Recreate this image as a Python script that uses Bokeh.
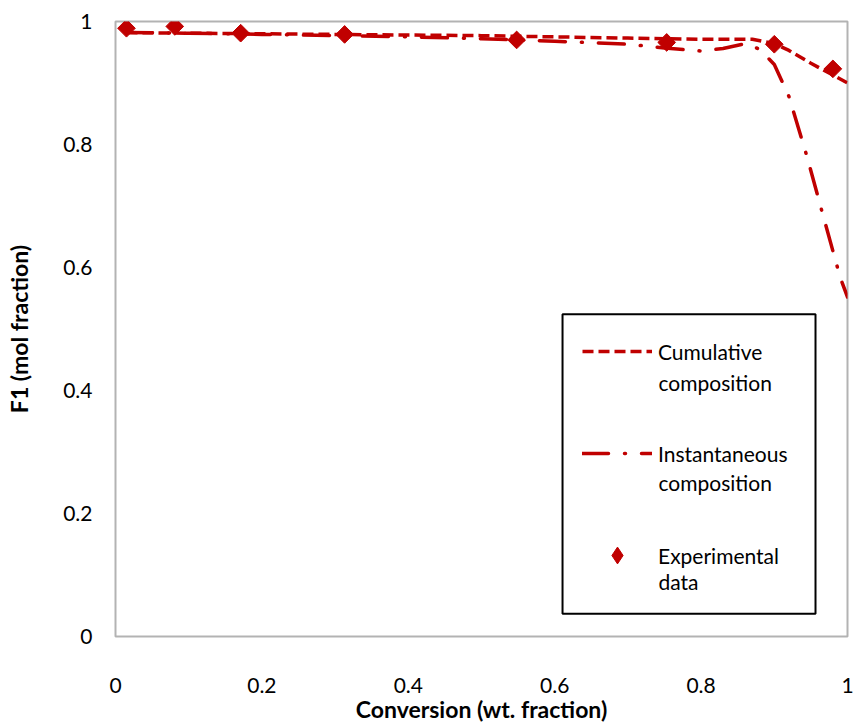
import numpy as np
from bokeh.plotting import figure
from bokeh.models import (Range1d, FixedTicker, NumeralTickFormatter, Legend,
                          LegendItem, Label, BoxAnnotation, LinearAxis)
from bokeh.embed import file_html
from bokeh.resources import INLINE

# ---- data ----
conv_cum = [0.015, 0.1, 0.2, 0.3, 0.4, 0.5, 0.6, 0.7, 0.8, 0.87, 0.9, 0.92, 0.95, 0.98, 1.0]
f1_cum = [0.982, 0.981, 0.980, 0.979, 0.978, 0.977, 0.975, 0.973, 0.971, 0.971, 0.964, 0.953, 0.932, 0.913, 0.900]

conv_inst = [0.015, 0.1, 0.2, 0.3, 0.4, 0.5, 0.6, 0.7, 0.75, 0.8, 0.83, 0.86, 0.88,
             0.9, 0.92, 0.945, 0.967, 0.99, 1.0]
f1_inst = [0.982, 0.981, 0.979, 0.977, 0.975, 0.972, 0.968, 0.963, 0.957, 0.952, 0.956,
           0.964, 0.955, 0.930, 0.878, 0.779, 0.683, 0.584, 0.552]

conv_exp = [0.015, 0.081, 0.171, 0.313, 0.548, 0.753, 0.900, 0.980]
f1_exp = [0.989, 0.992, 0.981, 0.979, 0.970, 0.966, 0.963, 0.923]

x_ticks = [0, 0.2, 0.4, 0.6, 0.8, 1]
y_ticks = [0, 0.2, 0.4, 0.6, 0.8, 1]

legend_labels = ["Cumulative", "Instantaneous", "Experimental"]
legend_second = ["composition", "composition", "data"]
x_title = "Conversion (wt. fraction)"
y_title = "F1 (mol fraction)"

RED = "#C00000"
FONT = "Lato"

p = figure(width=855, height=725, output_backend="svg", toolbar_location=None,
           x_range=Range1d(0, 1), y_range=Range1d(0, 1),
           min_border_left=115, min_border_right=8, min_border_top=21,
           min_border_bottom=80)

p.xgrid.visible = False
p.ygrid.visible = False
p.outline_line_color = "#B3B3B3"
p.outline_line_width = 2
p.background_fill_color = "white"
p.border_fill_color = "white"

for ax in (p.xaxis[0], p.yaxis[0]):
    ax.axis_line_color = None
    ax.major_tick_line_color = None
    ax.minor_tick_line_color = None
    ax.major_tick_out = 0
    ax.minor_tick_out = 0
    ax.major_label_text_font = FONT
    ax.major_label_text_font_size = "21px"
    ax.major_label_text_color = "black"
    ax.formatter = NumeralTickFormatter(format="0.[0]")

p.xaxis[0].ticker = FixedTicker(ticks=x_ticks)
p.yaxis[0].ticker = FixedTicker(ticks=y_ticks)
p.xaxis[0].major_label_standoff = 41
p.yaxis[0].major_label_standoff = 23

p.xaxis[0].axis_label = x_title
p.xaxis[0].axis_label_text_font = FONT
p.xaxis[0].axis_label_text_font_size = "23px"
p.xaxis[0].axis_label_text_font_style = "bold"
p.xaxis[0].axis_label_text_color = "black"
p.xaxis[0].axis_label_standoff = -1

# second (outer) left axis carrying only the y title, centred lower like the reference
ytitle_axis = LinearAxis(bounds=(0, 0.82), ticker=FixedTicker(ticks=[]),
                         axis_line_color=None, major_tick_out=0, minor_tick_out=0,
                         major_label_standoff=0, axis_label=y_title,
                         axis_label_text_font=FONT, axis_label_text_font_size="23px",
                         axis_label_text_font_style="bold",
                         axis_label_text_color="black", axis_label_standoff=28)
p.add_layout(ytitle_axis, "left")

r_inst = p.line(conv_inst, f1_inst, line_color=RED, line_width=3.5,
                line_dash="26 16 1 16", line_cap="round")
r_cum = p.line(conv_cum, f1_cum, line_color=RED, line_width=3.5, line_dash="11 5")
r_exp = p.scatter(conv_exp, f1_exp, marker="square", size=12.5, angle=np.pi / 4,
                  fill_color=RED, line_color=RED)
# legend proxy (legend glyphs ignore marker angle); not a visible data mark
r_exp_key = p.scatter(x=[np.nan], y=[np.nan], marker="diamond", size=17,
                      fill_color=RED, line_color=RED)

legend = Legend(
    items=[LegendItem(label=legend_labels[0], renderers=[r_cum]),
           LegendItem(label=legend_labels[1], renderers=[r_inst]),
           LegendItem(label=legend_labels[2], renderers=[r_exp_key])],
    location=(457, 50), padding=10, spacing=60, glyph_width=70, glyph_height=42,
    label_height=42, label_standoff=6, margin=0, border_line_alpha=0,
    background_fill_alpha=0, label_text_font=FONT, label_text_font_size="21px",
    label_text_color="black")
p.add_layout(legend)

for txt, yy in zip(legend_second, [0.4135, 0.2500, 0.0898]):
    p.add_layout(Label(x=0.7418, y=yy, text=txt, text_font=FONT, text_font_size="21px",
                       text_baseline="middle", text_align="left", text_color="black"))

p.add_layout(BoxAnnotation(left=0.6107, right=0.9563, bottom=0.0369, top=0.524,
                           fill_alpha=0, line_color="black", line_alpha=1,
                           line_width=2))

open("out.html", "w").write(file_html(p, INLINE))
